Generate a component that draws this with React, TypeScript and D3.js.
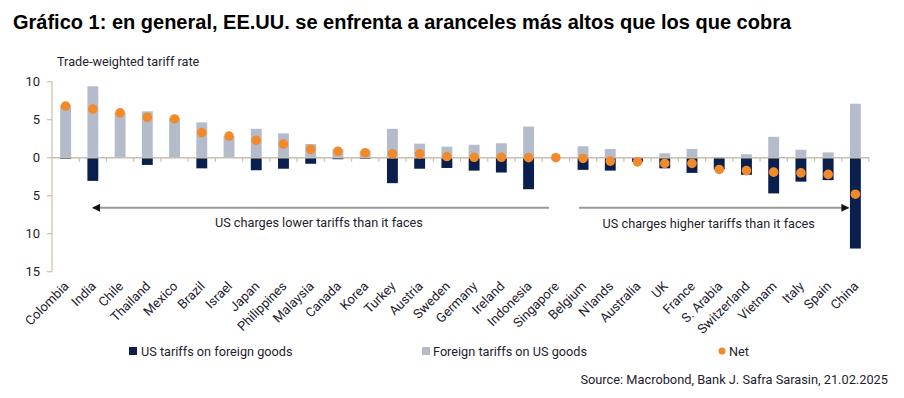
import React from "react";
import * as d3 from "d3";

const categories = [
  "Colombia", "India", "Chile", "Thailand", "Mexico", "Brazil", "Israel", "Japan",
  "Philippines", "Malaysia", "Canada", "Korea", "Turkey", "Austria", "Sweden",
  "Germany", "Ireland", "Indonesia", "Singapore", "Belgium", "N'lands", "Australia",
  "UK", "France", "S. Arabia", "Switzerland", "Vietnam", "Italy", "Spain", "China",
];

// gray bars
const foreignTariffs = [
  6.9, 9.4, 5.9, 6.1, 5.2, 4.65, 2.85, 3.8, 3.2, 1.8, 1.1, 0.9, 3.8, 1.85, 1.45,
  1.7, 1.9, 4.1, 0, 1.5, 1.15, 0, 0.58, 1.15, 0, 0.45, 2.75, 1.05, 0.7, 7.1,
];

// navy bars (drawn below zero)
const usTariffs = [
  -0.15, -3.05, 0, -0.95, 0, -1.4, 0, -1.65, -1.45, -0.8, -0.2, -0.15, -3.35, -1.45,
  -1.35, -1.7, -1.95, -4.15, 0, -1.6, -1.7, -0.55, -1.4, -2.0, -1.55, -2.25, -4.7,
  -3.15, -2.95, -11.95,
];

const net = [
  6.8, 6.4, 5.9, 5.3, 5.1, 3.3, 2.85, 2.3, 1.8, 1.1, 0.85, 0.65, 0.5, 0.5, 0.15,
  0.05, 0.05, 0, 0, -0.1, -0.45, -0.55, -0.75, -0.75, -1.55, -1.7, -1.9, -2.0, -2.2,
  -4.8,
];

const yTicks = [10, 5, 0, -5, -10, -15];

const NAVY = "#0b1f4e";
const GRAY = "#b4bccb";
const ORANGE = "#f28a2a";
const AXIS = "#c9bfae";
const FONT = "Roboto, sans-serif";
const TEXT = "#1e2230";
const FS = 12.7;

export default function App() {
  const width = 904;
  const height = 398;

  const x = d3.scaleBand().domain(categories).range([52, 869]);
  const y = d3.scaleLinear().domain([-15, 10]).range([271.7, 81.7]);
  const step = x.step();
  const barW = step * 0.4;
  const cx = (c: string) => (x(c) as number) + step / 2;

  const arrowY = y(-6.6);
  const leftStart = cx("India");
  const leftEnd = cx("Indonesia") + step * 0.75;
  const rightStart = cx("Belgium") - step * 0.15;
  const rightEnd = cx("China") - step * 0.25;

  return (
    <svg
      width={width}
      height={height}
      style={{ position: "absolute", left: 0, top: 0, background: "#fff" }}
      fontFamily={FONT}
    >
      <defs>
        <marker id="ah" viewBox="0 0 10 10" refX="9" refY="5" markerWidth="4" markerHeight="4" orient="auto-start-reverse">
          <path d="M0,0 L10,5 L0,10 z" fill="#111" />
        </marker>
      </defs>

      <text x={13} y={28.5} fontFamily="'Liberation Sans', Arial, sans-serif" fontWeight="bold" fontSize={20} fill="#000">
        Gráfico 1: en general, EE.UU. se enfrenta a aranceles más altos que los que cobra
      </text>

      <text x={57} y={66} fontSize={FS} fill={TEXT}>Trade-weighted tariff rate</text>

      {/* y axis */}
      <line x1={52} x2={52} y1={y(10)} y2={y(-15)} stroke={AXIS} strokeWidth={1.2} />
      {yTicks.map((t) => (
        <g key={t}>
          <line x1={47} x2={52} y1={y(t)} y2={y(t)} stroke={AXIS} strokeWidth={1.2} />
          <text x={40} y={y(t)} dy="0.35em" textAnchor="end" fontSize={13} fill={TEXT}>
            {Math.abs(t)}
          </text>
        </g>
      ))}

      {/* bars */}
      {categories.map((c, i) => (
        <g key={c}>
          {foreignTariffs[i] > 0 && (
            <rect x={cx(c) - barW / 2} y={y(foreignTariffs[i])} width={barW} height={y(0) - y(foreignTariffs[i])} fill={GRAY} />
          )}
          {usTariffs[i] < 0 && (
            <rect x={cx(c) - barW / 2} y={y(0)} width={barW} height={y(usTariffs[i]) - y(0)} fill={NAVY} />
          )}
        </g>
      ))}

      {/* zero line with category ticks */}
      <line x1={52} x2={869} y1={y(0)} y2={y(0)} stroke={AXIS} strokeWidth={1.5} />
      {categories.map((c) => (
        <line key={c} x1={(x(c) as number) + step} x2={(x(c) as number) + step} y1={y(0)} y2={y(0) + 4} stroke={AXIS} strokeWidth={1.2} />
      ))}

      {/* net dots */}
      {categories.map((c, i) => (
        <circle key={c} cx={cx(c)} cy={y(net[i])} r={4.8} fill={ORANGE} />
      ))}

      {/* arrows */}
      <line x1={leftEnd} x2={leftStart} y1={arrowY} y2={arrowY} stroke="#9a9a9a" strokeWidth={2} markerEnd="url(#ah)" />
      <text x={(leftStart + leftEnd) / 2 - 2} y={arrowY + 19} textAnchor="middle" fontSize={FS} fill={TEXT}>
        US charges lower tariffs than it faces
      </text>
      <line x1={rightStart} x2={rightEnd} y1={arrowY} y2={arrowY} stroke="#9a9a9a" strokeWidth={2} markerEnd="url(#ah)" />
      <text x={(rightStart + rightEnd) / 2 - 5} y={arrowY + 20} textAnchor="middle" fontSize={FS} fill={TEXT}>
        US charges higher tariffs than it faces
      </text>

      {/* category labels */}
      {categories.map((c) => (
        <text key={c} transform={`translate(${cx(c) + 4},${287}) rotate(-45)`} textAnchor="end" fontSize={13} fill={TEXT}>
          {c}
        </text>
      ))}

      {/* legend */}
      <rect x={129} y={347} width={8} height={8} fill={NAVY} />
      <text x={141} y={355.5} fontSize={FS} fill={TEXT}>US tariffs on foreign goods</text>
      <rect x={422} y={347} width={8} height={8} fill={GRAY} />
      <text x={433} y={355.5} fontSize={FS} fill={TEXT}>Foreign tariffs on US goods</text>
      <circle cx={722} cy={351} r={3.5} fill={ORANGE} />
      <text x={729} y={355.5} fontSize={FS} fill={TEXT}>Net</text>

      <text x={888} y={383.5} textAnchor="end" fontSize={12.8} fill={TEXT}>
        Source: Macrobond, Bank J. Safra Sarasin, 21.02.2025
      </text>
    </svg>
  );
}
